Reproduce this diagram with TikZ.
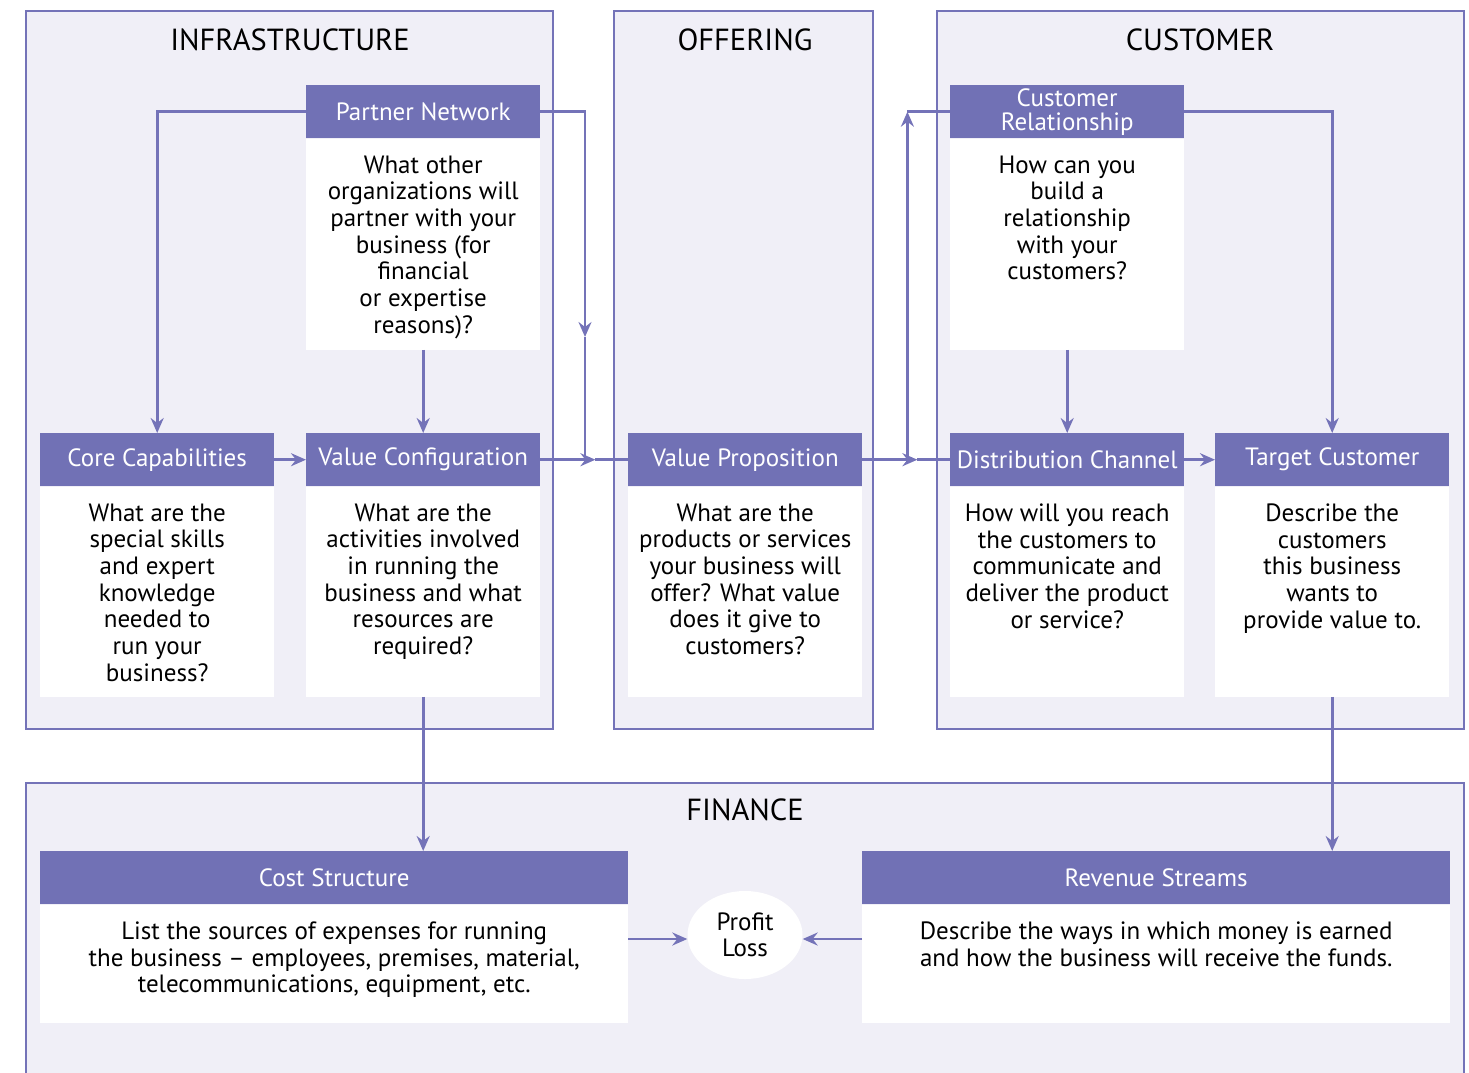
\documentclass[tikz,border=0pt]{standalone}
\usepackage{fontspec}
\setmainfont{PT Sans}
\usetikzlibrary{arrows.meta,shapes.geometric}

\definecolor{bmhead}{HTML}{7171B5}
\definecolor{bmline}{HTML}{7473B8}
\definecolor{bmpanel}{HTML}{F0EFF7}

% one building block: coloured heading with a white body under it
% #1 name, #2 top-left corner, #3 width, #4 body height, #5 heading, #6 question
\newcommand{\bmblock}[6]{%
  \node[bmheadbox, minimum width=#3] (#1head) at #2 {#5};
  \node[bmbodybox, minimum width=#3, minimum height=#4] (#1body) at (#1head.south) {};
  \node[bmtext] (#1text) at ([yshift=-17pt]#1body.north) {#6};
}

\begin{document}
\begin{tikzpicture}[x=1pt,y=-1pt,
  bmpanelbox/.style={draw=bmline, fill=bmpanel, line width=2.4pt},
  bmheadbox/.style={fill=bmhead, text=white, anchor=north west, minimum height=53pt,
    inner sep=0pt, align=center, font=\fontsize{25}{24}\selectfont},
  bmbodybox/.style={fill=white, anchor=north, inner sep=0pt},
  bmtext/.style={anchor=north, inner sep=0pt, align=center, font=\fontsize{25}{26.7}\selectfont},
  bmtitle/.style={font=\fontsize{30.5}{30}\selectfont},
  bmwire/.style={draw=bmline, line width=2.6pt},
  bmarrow/.style={bmwire, -{Stealth[length=15pt,width=13pt,inset=5pt]}}]

  \clip (0,0) rectangle (1469,1072);

  % --- Panels ---
  \draw[bmpanelbox] (26,11) rectangle (553,729);
  \draw[bmpanelbox] (614,11) rectangle (873,729);
  \draw[bmpanelbox] (937,11) rectangle (1464,729);
  \draw[bmpanelbox] (26,783) rectangle (1464,1100);

  \node[bmtitle] (infra) at (290,40) {INFRASTRUCTURE};
  \node[bmtitle] (offer) at (745,40) {OFFERING};
  \node[bmtitle] (cust) at (1200,40) {CUSTOMER};
  \node[bmtitle] (fin) at (745,810) {FINANCE};

  % --- Parameters ---
  \def\wbox{234}    % width of a block
  \def\ytop{85}     % top row of headings
  \def\ymid{433}    % middle row of headings
  \def\ybot{851}    % finance headings

  % --- Infrastructure ---
  \bmblock{pn}{(306,\ytop)}{\wbox pt}{211pt}{Partner Network}
    {What other\\organizations will\\partner with your\\business (for\\financial\\or expertise\\reasons)?}
  \bmblock{cc}{(40,\ymid)}{\wbox pt}{210pt}{Core Capabilities}
    {What are the\\special skills\\and expert\\knowledge\\needed to\\run your\\business?}
  \bmblock{vc}{(306,\ymid)}{\wbox pt}{210pt}{Value Configuration}
    {What are the\\activities involved\\in running the\\business and what\\resources are\\required?}

  % --- Offering ---
  \bmblock{vp}{(628,\ymid)}{\wbox pt}{210pt}{Value Proposition}
    {What are the\\products or services\\your business will\\offer? What value\\does it give to\\customers?}

  % --- Customer ---
  \bmblock{cr}{(950,\ytop)}{\wbox pt}{211pt}{Customer\\Relationship}
    {How can you\\build a\\relationship\\with your\\customers?}
  \bmblock{dc}{(950,\ymid)}{\wbox pt}{210pt}{Distribution Channel}
    {How will you reach\\the customers to\\communicate and\\deliver the product\\or service?}
  \bmblock{tc}{(1215,\ymid)}{\wbox pt}{210pt}{Target Customer}
    {Describe the\\customers\\this business\\wants to\\provide value to.}

  % --- Finance ---
  \bmblock{cs}{(40,\ybot)}{588pt}{118pt}{Cost Structure}
    {List the sources of expenses for running\\the business -- employees, premises, material,\\telecommunications, equipment, etc.}
  \bmblock{rs}{(862,\ybot)}{588pt}{118pt}{Revenue Streams}
    {Describe the ways in which money is earned\\and how the business will receive the funds.}

  \node[ellipse, fill=white, minimum width=115pt, minimum height=88pt, inner sep=0pt,
    align=center, font=\fontsize{25}{26}\selectfont] (pl) at (745,935) {Profit\\Loss};

  % --- Connectors ---
  \coordinate (pndown) at (585,337);
  \coordinate (vcmid) at ([xshift=55pt]vchead.east);
  \coordinate (vpmid) at ([xshift=55pt]vphead.east);
  \coordinate (vpup) at ([xshift=45pt]vphead.east);
  \coordinate (plin) at (745,939);

  \draw[bmarrow] (pnhead.west) -| (cchead.north);
  \draw[bmarrow] (pnbody.south) -- (vchead.north);
  \draw[bmarrow] (pnhead.east) -| (pndown);
  \draw[bmwire] (pndown) -- (pndown |- vchead.east);
  \draw[bmarrow] (cchead.east) -- (vchead.west);
  \draw[bmarrow] (vchead.east) -- (vcmid);
  \draw[bmwire] (vcmid) -- (vphead.west);

  \draw[bmarrow] (vphead.east) -- (vpmid);
  \draw[bmwire] (vpmid) -- (dchead.west);
  \draw[bmarrow] (vpup) -- (vpup |- crhead.west);
  \draw[bmwire] (vpup |- crhead.west) -- (crhead.west);
  \draw[bmarrow] (crbody.south) -- (dchead.north);
  \draw[bmarrow] (crhead.east) -| (tchead.north);
  \draw[bmarrow] (dchead.east) -- (tchead.west);

  \draw[bmarrow] (vcbody.south) -- (vcbody.south |- cshead.north);
  \draw[bmarrow] (tcbody.south) -- (tcbody.south |- rshead.north);
  \draw[bmarrow] (plin -| csbody.east) -- (plin -| pl.west);
  \draw[bmarrow] (plin -| rsbody.west) -- (plin -| pl.east);
\end{tikzpicture}
\end{document}
